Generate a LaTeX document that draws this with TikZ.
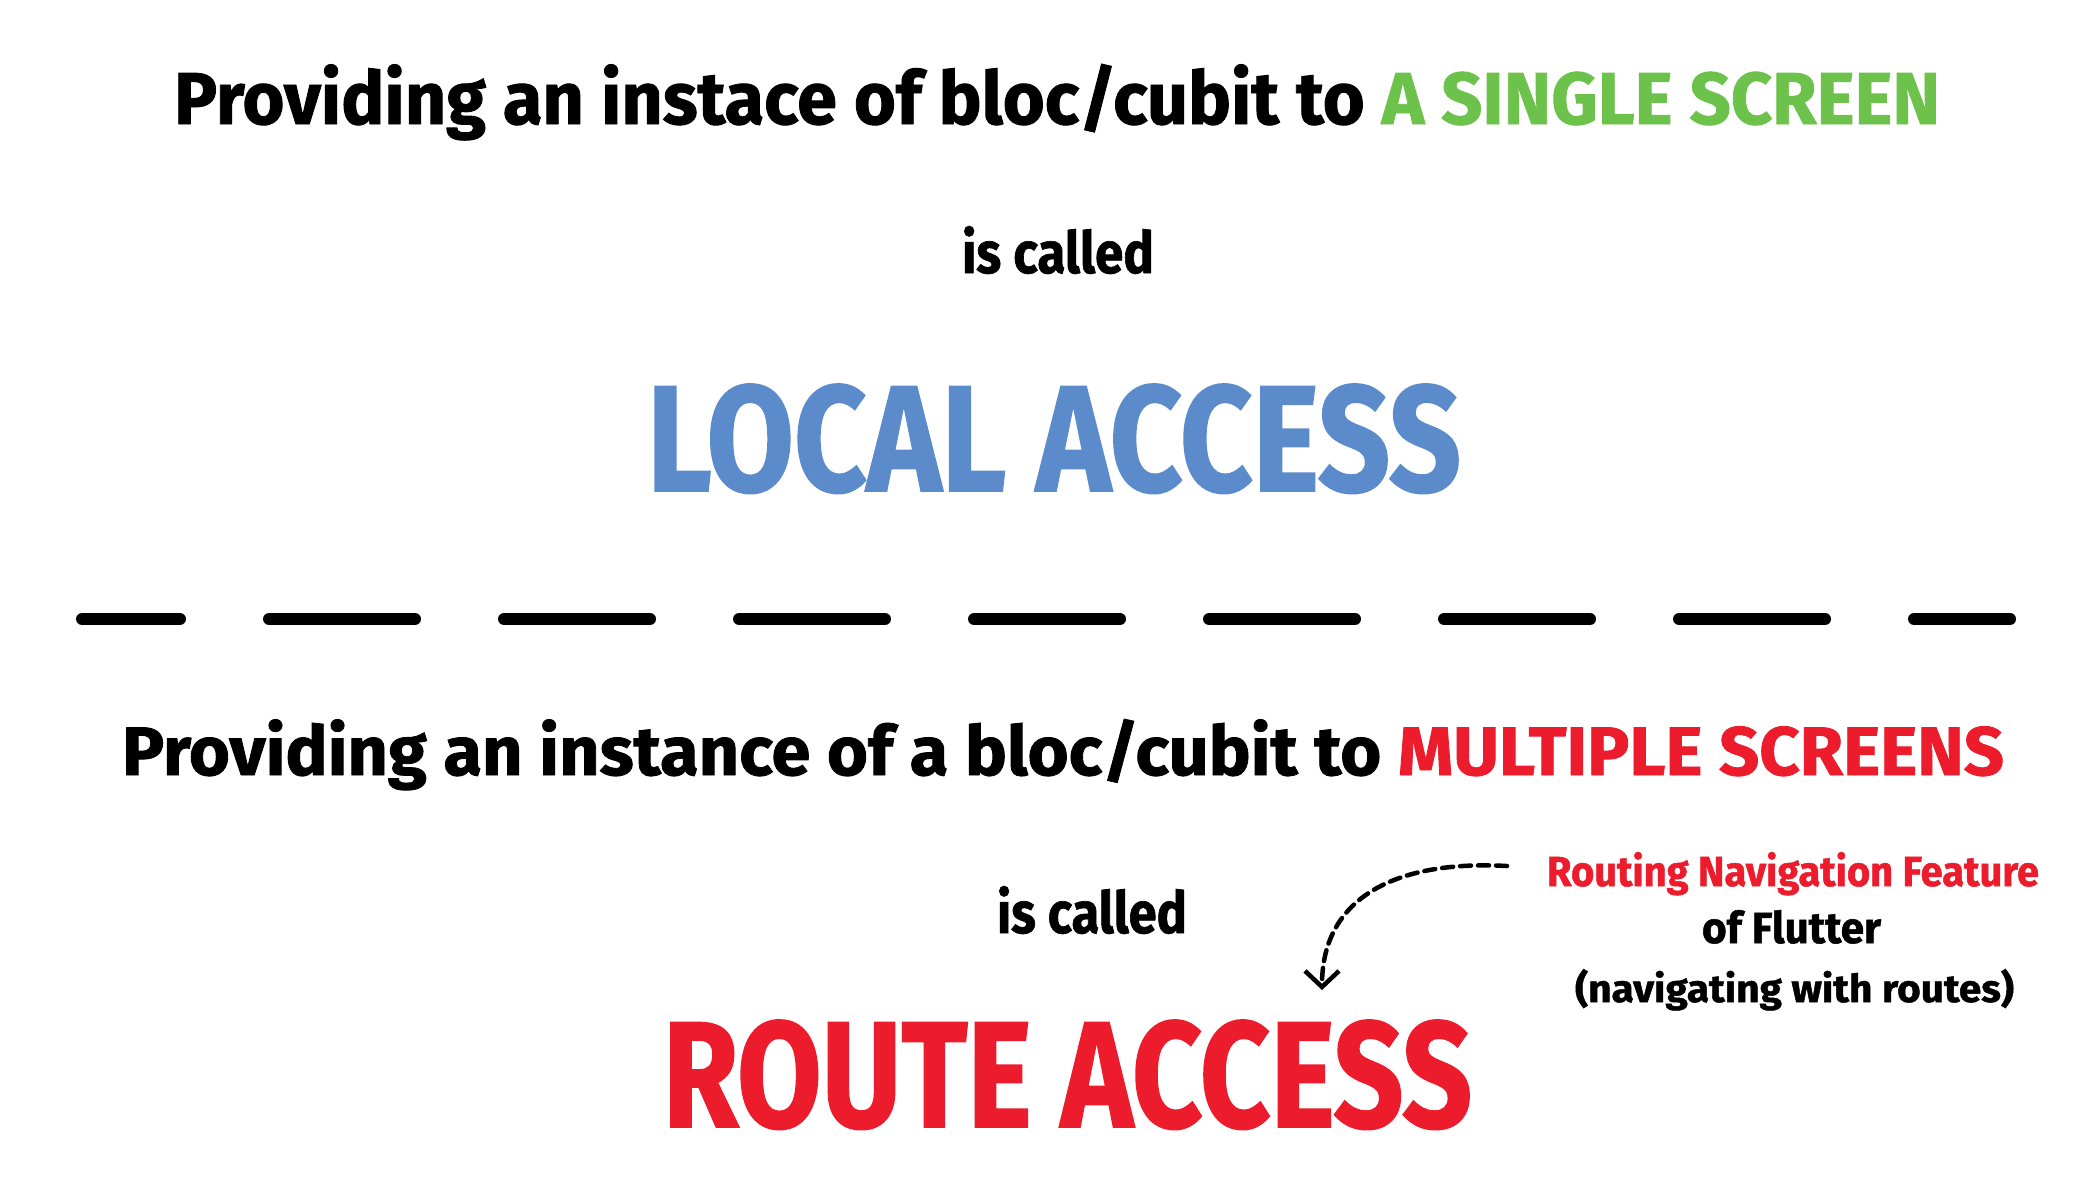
\documentclass[tikz,border=0pt]{standalone}
\usepackage{fontspec}
\setmainfont{Fira Sans}[BoldFeatures={FakeBold=1.2}]
\usetikzlibrary{arrows.meta}
\definecolor{sgreen}{HTML}{6CC24A}
\definecolor{lblue}{HTML}{5B8BCB}
\definecolor{rred}{HTML}{EC1C2D}
\newcommand{\fitbox}[3]{\resizebox{#1pt}{#2pt}{\fontsize{60}{72}\selectfont\bfseries #3}}
\begin{document}
\begin{tikzpicture}[x=1pt,y=-1pt,
  txt/.style={anchor=base west, inner sep=0pt, outer sep=0pt},
  divider/.style={line width=12pt, line cap=round, dash pattern=on 146pt off 89pt, dash phase=48pt},
  pointer/.style={line width=4.5pt, line cap=round, dash pattern=on 11pt off 7pt, -{Straight Barb[length=16pt,width=34pt,line width=4.5pt]}}]
\fill[white] (0,0) rectangle (2092,1176);
\useasboundingbox (0,0) rectangle (2092,1176);
\node[txt] (t1) at (174,124) {\fitbox{1766}{60}{Providing an instace of bloc/cubit to \textcolor{sgreen}{A SINGLE SCREEN}}};
\node[txt] (c1) at (962,273) {\fitbox{192}{47}{is called}};
\node[txt] (la) at (647,491) {\fitbox{814}{107}{\textcolor{lblue}{LOCAL ACCESS}}};
\draw[divider] (82,619) -- (2010,619);
\node[txt] (t2) at (122,775) {\fitbox{1882}{56}{Providing an instance of a bloc/cubit to \textcolor{rred}{MULTIPLE SCREENS}}};
\node[txt] (c2) at (997,933) {\fitbox{190}{47}{is called}};
\node[txt] (ra) at (663,1127) {\fitbox{809}{107}{\textcolor{rred}{ROUTE ACCESS}}};
\node[txt] (n1) at (1547,886) {\fitbox{492}{34}{\textcolor{rred}{Routing Navigation Feature}}};
\node[txt] (n2) at (1702,943) {\fitbox{179}{33}{of Flutter}};
\node[txt] (n3) at (1575,1002) {\fitbox{439}{33}{(navigating with routes)}};
\coordinate (as) at (1507,866);
\coordinate (ae) at (1322,990);
\draw[pointer] (as) .. controls (1400,860) and (1322,895) .. (ae);
\end{tikzpicture}
\end{document}
